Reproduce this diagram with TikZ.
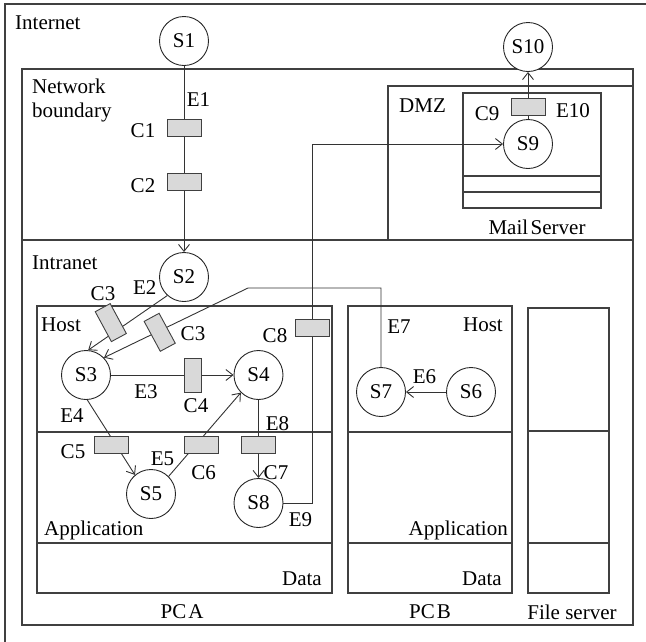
\documentclass[tikz,border=0pt]{standalone}
\usepackage{fontspec}
\setmainfont{Liberation Serif}
\newfontfamily\figfont{Liberation Serif}
\usetikzlibrary{arrows.meta}
\begin{document}
\begin{tikzpicture}[x=1pt,y=-1pt,
  box/.style={draw=black!75, line width=1.1pt},
  ln/.style={draw=black!80, line width=0.9pt},
  arr/.style={ln, -{Straight Barb[length=7pt,width=11pt]}},
  st/.style={circle, draw=black!85, line width=0.9pt, minimum size=49pt, inner sep=0pt, font=\figfont\fontsize{21}{24}\selectfont, fill=white},
  gate/.style={rectangle, draw=black!75, fill=black!15, line width=0.9pt, minimum width=34pt, minimum height=17pt, inner sep=0pt},
  lab/.style={inner sep=0pt, font=\figfont\fontsize{21}{24}\selectfont},
]
\useasboundingbox (0,0) rectangle (646,641);
\clip (0,0) rectangle (646,641);
% frames
\draw[box] (5,4) rectangle (700,700);
\draw[box] (22,69) rectangle (633,240);
\draw[box] (22,240) rectangle (633,625);
\draw[box] (388,86) rectangle (633,240);
\draw[box] (463,93) rectangle (601,208);
\draw[box] (463,176) -- (601,176);
\draw[box] (463,192) -- (601,192);
\draw[box] (37,306) rectangle (332,593);
\draw[box] (37,432) -- (332,432);
\draw[box] (37,543) -- (332,543);
\draw[box] (348,306) rectangle (512,593);
\draw[box] (348,432) -- (512,432);
\draw[box] (348,543) -- (512,543);
\draw[box] (528,308) rectangle (609,593);
\draw[box] (528,431) -- (609,431);
\draw[box] (528,543) -- (609,543);
% nodes
\node[st] (S1) at (184,41) {S1};
\node[st] (S10) at (528,47) {S10};
\node[st] (S9) at (528,144) {S9};
\node[st] (S2) at (184,277) {S2};
\node[st] (S3) at (86,375) {S3};
\node[st] (S4) at (258.5,375) {S4};
\node[st] (S5) at (151,494) {S5};
\node[st] (S8) at (258.5,503) {S8};
\node[st] (S7) at (381,392) {S7};
\node[st] (S6) at (471,392) {S6};
\coordinate (k7) at (248,288);
\coordinate (k9) at (312,144);
% connectors
\draw[arr] (S1) -- (S2);
\draw[arr] (S2.228) -- (S3.85);
\draw[arr] (S7.north) |- (k7) -- (S3.44);
\draw[arr] (S3) -- (S4);
\draw[arr] (S3.273) -- (S5.130);
\draw[arr] (S5.45) -- (S4.225);
\draw[arr] (S4) -- (S8);
\draw[arr] (S8.east) -| (k9) -- (S9.west);
\draw[arr] (S9) -- (S10);
\draw[arr] (S6) -- (S7);
% gates
\node[gate] (g1) at (184,128) {};
\node[gate] (g2) at (184,182) {};
\node[gate, rotate=-61.6] (g3a) at (110.8,322.6) {};
\node[gate, rotate=-61.6] (g3b) at (159.7,332.3) {};
\node[gate, rotate=90] (g4) at (193,375) {};
\node[gate] (g5) at (111,445) {};
\node[gate] (g6) at (201,445) {};
\node[gate] (g7) at (258.5,445) {};
\node[gate] (g8) at (312,328) {};
\node[gate] (g9) at (528,107) {};
% labels
\node[lab, anchor=west] (tInternet) at (15,23) {Internet};
\node[lab, anchor=west, align=left] (tNB) at (32,100) {Network\\boundary};
\node[lab, anchor=west] (tDMZ) at (399,106) {DMZ};
\node[lab] (tMail) at (537,227) {Mail\hspace{2.5pt}Server};
\node[lab, anchor=west] (tIntranet) at (32,263) {Intranet};
\node[lab, anchor=west] (tHostA) at (41,325) {Host};
\node[lab, anchor=east] (tHostB) at (503,325) {Host};
\node[lab, anchor=west] (tAppA) at (44,530) {Application};
\node[lab, anchor=east] (tAppB) at (508,530) {Application};
\node[lab, anchor=east] (tDataA) at (322,579) {Data};
\node[lab, anchor=east] (tDataB) at (502,579) {Data};
\node[lab] (tPCA) at (182,612) {PC\hspace{2pt}A};
\node[lab] (tPCB) at (430,612) {PC\hspace{2pt}B};
\node[lab] (tFS) at (572,612) {File server};
\node[lab] (lE1) at (198.5,100) {E1};
\node[lab] (lC1) at (143,131) {C1};
\node[lab] (lC2) at (143,186) {C2};
\node[lab] (lE2) at (144.7,288) {E2};
\node[lab] (lC3a) at (103,294) {C3};
\node[lab] (lC3b) at (193,334) {C3};
\node[lab] (lC4) at (196,406) {C4};
\node[lab] (lE3) at (146,392) {E3};
\node[lab] (lE4) at (72,415.5) {E4};
\node[lab] (lC8) at (275,335.5) {C8};
\node[lab] (lE8) at (277.5,423.5) {E8};
\node[lab] (lC5) at (73,451.5) {C5};
\node[lab] (lE5) at (162.5,459) {E5};
\node[lab] (lC6) at (203.7,472.5) {C6};
\node[lab] (lC7) at (276,472.5) {C7};
\node[lab] (lE9) at (300.5,520) {E9};
\node[lab] (lE7) at (399,326.5) {E7};
\node[lab] (lE6) at (424.5,377) {E6};
\node[lab] (lC9) at (487,113.3) {C9};
\node[lab] (lE10) at (573,111) {E10};
\end{tikzpicture}
\end{document}
